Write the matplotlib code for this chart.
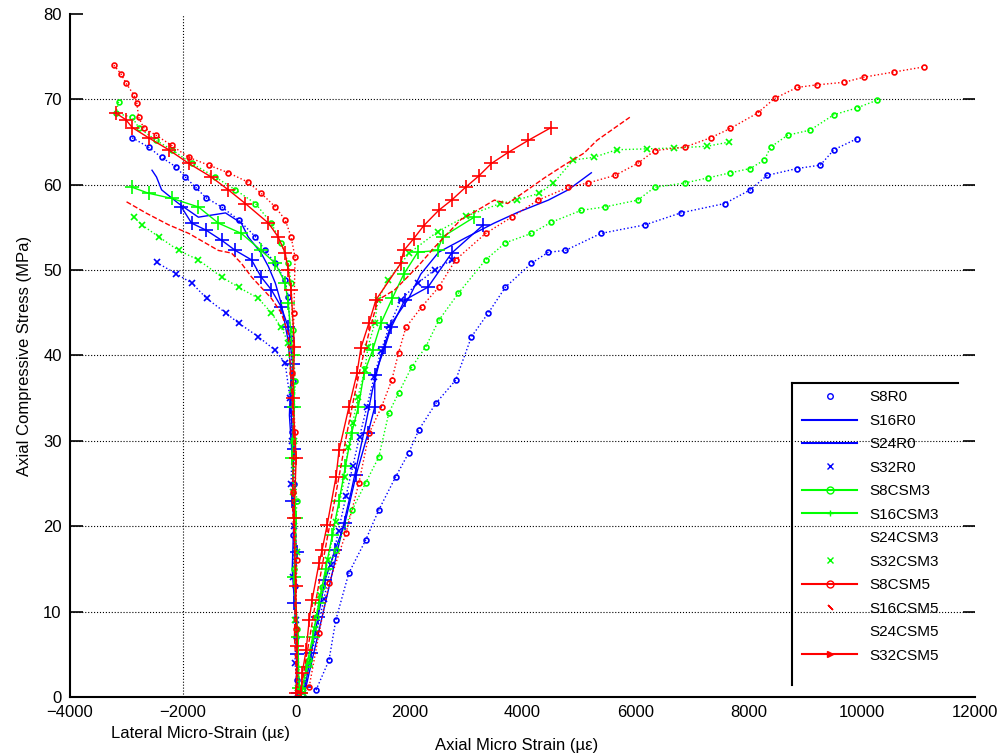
import matplotlib
matplotlib.use('Agg')
import matplotlib.pyplot as plt
from matplotlib.lines import Line2D

plt.rcParams['font.family'] = ['Liberation Sans', 'DejaVu Sans']

# ---- data (strain in micro-strain, stress in MPa) ----
# lateral strain (negative side)
s8r0_lat_x = [-2900, -2610, -2380, -2130, -1960, -1780, -1600, -1320, -1020, -720, -550, -370, -195, -140, -100, -60, -80, -30, -50, -20, 0, 20, 30]
s8r0_lat_y = [65.5, 64.4, 63.2, 62.1, 60.9, 59.7, 58.5, 57.4, 55.9, 53.9, 52.3, 50.8, 48.8, 46.8, 42, 37, 31, 25, 19, 13, 7, 2, 0.5]
s16r0_lat_x = [-2550, -2470, -2380, -2080, -1730, -1250, -970, -850, -620, -490, -370, -265, -150, -90, -120, -60, -40, -70, -10, 10, 0]
s16r0_lat_y = [61.7, 60.9, 59.4, 57.8, 56.2, 56.7, 55.5, 53.9, 52.0, 50.4, 48.5, 46.1, 42, 38, 33, 27, 21, 15, 9, 4, 0.5]
s24r0_lat_x = [-2030, -1850, -1600, -1320, -1075, -790, -620, -440, -265, -140, -60, -100, -40, -70, 10, -30, 20, 40]
s24r0_lat_y = [57.4, 55.5, 54.7, 53.5, 52.3, 51.2, 49.2, 47.7, 45.7, 43.3, 39, 34, 29, 23, 17, 11, 5, 0.5]
s32r0_lat_x = [-2470, -2130, -1850, -1585, -1250, -1020, -670, -370, -195, -110, -70, -90, -30, -50, 0, -20, 30]
s32r0_lat_y = [50.9, 49.6, 48.5, 46.7, 45.0, 43.8, 42.2, 40.6, 39.1, 35, 30, 25, 20, 14, 9, 4, 0.5]

s8csm3_lat_x = [-3140, -3190, -2900, -2785, -2480, -2200, -1850, -1430, -1075, -720, -440, -265, -140, -90, -60, -20, -50, 10, -30, 20, 60]
s8csm3_lat_y = [69.7, 68.4, 67.9, 66.7, 65.2, 64.1, 62.5, 60.9, 59.4, 57.8, 55.5, 53.2, 50.8, 48.5, 43, 37, 30, 23, 15, 8, 1]
s16csm3_lat_x = [-2900, -2610, -2200, -1730, -1375, -970, -620, -370, -195, -140, -60, -30, -80, 0, -40, 30, 50]
s16csm3_lat_y = [59.7, 59.0, 58.4, 57.4, 55.5, 54.3, 52.3, 50.8, 48.5, 46.1, 40, 34, 28, 21, 14, 7, 1]
s32csm3_lat_x = [-2870, -2730, -2430, -2080, -1730, -1320, -1020, -670, -440, -265, -140, -80, -40, -60, 10, -20, 40]
s32csm3_lat_y = [56.2, 55.3, 53.9, 52.3, 51.2, 49.2, 48.0, 46.7, 45.0, 43.3, 41.5, 36, 30, 24, 17, 9, 1]

s8csm5_lat_x = [-3225, -3100, -3010, -2870, -2820, -2785, -2700, -2480, -2200, -1900, -1550, -1200, -850, -620, -370, -195, -90, -20, -40, -70, -20, -50, 10, -10, 40]
s8csm5_lat_y = [74.0, 73.0, 71.9, 70.5, 69.6, 67.9, 66.7, 65.8, 64.6, 63.2, 62.3, 61.4, 60.3, 59.0, 57.4, 55.9, 53.9, 51.5, 45, 38, 31, 24, 16, 8, 0.5]
s16csm5_lat_x = [-3000, -2660, -2255, -1900, -1375, -1145, -970, -790, -440, -265, -140, -80, -40, -70, -10, -30, 20]
s16csm5_lat_y = [58.0, 56.7, 55.3, 54.3, 52.3, 52.0, 50.8, 49.2, 46.7, 45.0, 42.6, 36, 30, 23, 15, 7, 0.5]
s32csm5_lat_x = [-3190, -3010, -2900, -2610, -2255, -1900, -1500, -1200, -900, -490, -320, -195, -140, -90, -30, -60, 0, -40, -10, 20, 0]
s32csm5_lat_y = [68.4, 67.6, 66.7, 65.5, 64.1, 62.5, 60.9, 59.4, 57.8, 55.5, 53.9, 52.0, 50.0, 47.7, 41, 35, 28, 21, 13, 6, 0.5]

# axial strain (positive side)
s8r0_ax_x = [350, 580, 700, 930, 1230, 1460, 1760, 1990, 2170, 2470, 2820, 3100, 3400, 3700, 4160, 4460, 4760, 5390, 6170, 6800, 7580, 8030, 8330, 8860, 9270, 9510, 9920]
s8r0_ax_y = [0.8, 4.3, 9.0, 14.5, 18.4, 21.9, 25.8, 28.6, 31.3, 34.4, 37.1, 42.2, 45.0, 48.0, 50.8, 52.1, 52.3, 54.3, 55.3, 56.7, 57.8, 59.4, 61.1, 61.9, 62.3, 64.1, 65.4]
s16r0_ax_x = [150, 270, 410, 550, 690, 830, 970, 1100, 1230, 1350, 1500, 1690, 1990, 2200, 2520, 3000, 3500, 3930, 4460, 4810, 5220]
s16r0_ax_y = [0.5, 4, 8, 12, 16, 20, 24, 28, 32, 36, 40, 43.8, 46.7, 49.5, 52.1, 53.8, 55.5, 56.8, 58.2, 59.4, 61.4]
s24r0_ax_x = [158, 264, 388, 510, 687, 863, 1060, 1270, 1390, 1390, 1570, 1680, 1920, 2330, 2750, 3310]
s24r0_ax_y = [1.2, 5.2, 9.4, 13.7, 17.2, 20.4, 26.0, 30.9, 34.0, 37.7, 41.0, 43.3, 46.5, 48.0, 52.0, 55.3]
s32r0_ax_x = [120, 230, 360, 490, 620, 750, 880, 1000, 1120, 1250, 1380, 1500, 1650, 1850, 2150, 2450, 2750]
s32r0_ax_y = [0.5, 4, 7.5, 11.5, 15.5, 19.5, 23.5, 27, 30.5, 34, 37.5, 40.5, 43.5, 46.5, 48.5, 50.0, 51.2]

s8csm3_ax_x = [110, 230, 350, 460, 700, 990, 1230, 1460, 1640, 1810, 2040, 2290, 2520, 2870, 3350, 3700, 4160, 4510, 5040, 5460, 6040, 6340, 6870, 7280, 7680, 8030, 8280, 8390, 8690, 9090, 9510, 9920, 10270]
s8csm3_ax_y = [0.8, 4.3, 9.4, 12.9, 17.2, 21.9, 25.1, 28.1, 33.3, 35.6, 38.6, 41.0, 44.1, 47.3, 51.2, 53.2, 54.3, 55.6, 57.0, 57.4, 58.2, 59.7, 60.2, 60.8, 61.4, 61.9, 62.9, 64.4, 65.8, 66.4, 68.2, 69.0, 69.9]
s16csm3_ax_x = [90, 180, 290, 400, 520, 640, 760, 870, 980, 1100, 1200, 1350, 1500, 1700, 1900, 2150, 2500, 2590, 3150]
s16csm3_ax_y = [0.5, 3.5, 7, 11, 15, 19, 23, 27, 30.9, 34.0, 37.9, 40.6, 43.8, 46.7, 49.5, 52.1, 52.3, 53.9, 56.2]
s32csm3_ax_x = [120, 220, 330, 430, 560, 700, 860, 915, 1000, 1090, 1215, 1270, 1390, 1445, 1620, 2000, 2500, 3000, 3610, 3900, 4300, 4550, 4900, 5260, 5670, 6200, 6680, 7260, 7660]
s32csm3_ax_y = [0.5, 4, 8, 12, 16, 20.5, 25.8, 29.3, 32.1, 35.1, 38.3, 41.0, 43.8, 46.5, 48.8, 52.0, 54.5, 56.3, 57.8, 58.2, 59.0, 60.2, 62.9, 63.2, 64.1, 64.2, 64.3, 64.5, 65.0]

s8csm5_ax_x = [230, 405, 580, 880, 1110, 1290, 1510, 1690, 1810, 1940, 2220, 2520, 2820, 3350, 3810, 4280, 4810, 5160, 5640, 6040, 6340, 6870, 7330, 7680, 8160, 8460, 8860, 9215, 9690, 10040, 10570, 11100]
s8csm5_ax_y = [1.2, 7.5, 13.3, 19.2, 25.1, 30.9, 34.0, 37.1, 40.3, 43.3, 45.7, 48.0, 51.2, 54.3, 56.2, 58.2, 59.7, 60.2, 61.1, 62.5, 64.0, 64.4, 65.5, 66.6, 68.4, 70.1, 71.4, 71.7, 72.0, 72.6, 73.2, 73.8]
s16csm5_ax_x = [80, 150, 240, 340, 450, 560, 680, 790, 900, 1020, 1150, 1300, 1445, 1745, 1970, 2200, 2450, 2680, 2910, 3200, 3505, 3740, 4090, 4390, 4740, 5090, 5320, 5620, 5900]
s16csm5_ax_y = [0.5, 3.5, 7, 11, 15, 19, 23, 27, 31, 35, 39, 43, 46.5, 47.7, 49.2, 50.8, 52.7, 54.3, 55.9, 57.0, 58.2, 57.8, 59.4, 60.8, 62.3, 63.7, 65.2, 66.6, 67.9]
s32csm5_ax_x = [88, 106, 176, 230, 282, 405, 458, 546, 705, 758, 934, 1075, 1145, 1286, 1410, 1850, 1903, 2080, 2255, 2520, 2749, 2995, 3225, 3454, 3753, 4105, 4510]
s32csm5_ax_y = [0.5, 2.8, 5.5, 9.0, 11.4, 15.7, 17.2, 20.1, 25.8, 28.9, 34.0, 37.9, 40.9, 43.8, 46.5, 50.8, 52.3, 53.7, 55.2, 57.0, 58.2, 59.7, 61.0, 62.5, 63.8, 65.2, 66.7]

names = ['S8R0', 'S16R0', 'S24R0', 'S32R0', 'S8CSM3', 'S16CSM3', 'S24CSM3', 'S32CSM3',
         'S8CSM5', 'S16CSM5', 'S24CSM5', 'S32CSM5']

BLUE, GREEN, RED = '#0000ff', '#00ff00', '#ff0000'

curves = [
    (s8r0_lat_x, s8r0_lat_y, s8r0_ax_x, s8r0_ax_y, BLUE, ':', 'o', 3.5),
    (s16r0_lat_x, s16r0_lat_y, s16r0_ax_x, s16r0_ax_y, BLUE, '-', '', 0),
    (s24r0_lat_x, s24r0_lat_y, s24r0_ax_x, s24r0_ax_y, BLUE, '-', '+', 10),
    (s32r0_lat_x, s32r0_lat_y, s32r0_ax_x, s32r0_ax_y, BLUE, ':', 'x', 5),
    (s8csm3_lat_x, s8csm3_lat_y, s8csm3_ax_x, s8csm3_ax_y, GREEN, ':', 'o', 3.5),
    (s16csm3_lat_x, s16csm3_lat_y, s16csm3_ax_x, s16csm3_ax_y, GREEN, '-', '+', 10),
    (s32csm3_lat_x, s32csm3_lat_y, s32csm3_ax_x, s32csm3_ax_y, GREEN, ':', 'x', 5),
    (s8csm5_lat_x, s8csm5_lat_y, s8csm5_ax_x, s8csm5_ax_y, RED, ':', 'o', 3.5),
    (s16csm5_lat_x, s16csm5_lat_y, s16csm5_ax_x, s16csm5_ax_y, RED, '--', '', 0),
    (s32csm5_lat_x, s32csm5_lat_y, s32csm5_ax_x, s32csm5_ax_y, RED, '-', '+', 10),
]

fig = plt.figure(figsize=(10.03, 7.55), dpi=100)
ax = fig.add_axes([0.0698, 0.0768, 0.902, 0.9047])

# grid drawn by hand the way the original shows it
for yv in range(10, 80, 10):
    ax.axhline(yv, color='black', ls=':', lw=0.8, zorder=0)
ax.axvline(-2000, color='black', ls=':', lw=0.8, zorder=0)

for lx, ly, axx, axy, c, ls, mk, ms in curves:
    for xs, ys in ((lx, ly), (axx, axy)):
        ax.plot(xs, ys, color=c, ls=ls, lw=1.0, marker=mk if mk else None, ms=ms,
                mfc='none', mew=1.2)

ax.set_xlim(-4000, 12000)
ax.set_ylim(0, 80)
ax.set_xticks(range(-4000, 12001, 2000))
ax.set_yticks(range(0, 81, 10))
ax.spines['top'].set_visible(False)
ax.spines['right'].set_visible(False)
ax.spines['left'].set_linewidth(1.5)
ax.spines['bottom'].set_linewidth(1.5)
ax.tick_params(axis='y', direction='in', length=9, width=1.2, right=True, labelsize=12, pad=6)
ax.tick_params(axis='x', length=0, labelsize=12, pad=6)
# no right-hand tick at the very top or bottom
yt = ax.yaxis.get_major_ticks()
yt[-1].tick2line.set_visible(False)
yt[0].tick2line.set_visible(False)

ax.set_ylabel('Axial Compressive Stress (MPa)', fontsize=12, labelpad=8)
fig.text(0.20, 0.028, 'Lateral Micro-Strain (\u00b5\u03b5)', fontsize=12, ha='center', va='center')
fig.text(0.515, 0.012, 'Axial Micro Strain (\u00b5\u03b5)', fontsize=12, ha='center', va='center')

# legend, styled like the original
handles = [
    Line2D([], [], color=BLUE, ls='none', marker='o', ms=4, mfc='none'),
    Line2D([], [], color=BLUE, ls='-', lw=1.5),
    Line2D([], [], color=BLUE, ls='-', lw=1.5),
    Line2D([], [], color=BLUE, ls='none', marker='x', ms=4),
    Line2D([], [], color=GREEN, ls='-', lw=1.5, marker='o', ms=5, mfc='none'),
    Line2D([], [], color=GREEN, ls='-', lw=1.5, marker='+', ms=5),
    Line2D([], [], color='none', ls='none'),
    Line2D([], [], color=GREEN, ls='none', marker='x', ms=4),
    Line2D([], [], color=RED, ls='-', lw=1.5, marker='o', ms=5, mfc='none'),
    Line2D([], [], color=RED, ls='none', marker=(2, 2, 45), ms=5),
    Line2D([], [], color='none', ls='none'),
    Line2D([], [], color=RED, ls='-', lw=1.5, marker='>', ms=4),
]
leg = fig.legend(handles, names, loc='upper left', bbox_to_anchor=(0.792, 0.493),
                 frameon=False, fontsize=11, handlelength=3.6, labelspacing=0.62,
                 handletextpad=0.8, borderaxespad=0.0, borderpad=0.5)
# top and left edges of the legend box
fig.add_artist(Line2D([0.790, 0.955], [0.493, 0.493], color='black', lw=1.5))
fig.add_artist(Line2D([0.790, 0.790], [0.493, 0.093], color='black', lw=1.5))

fig.savefig('out.png', dpi=100)
